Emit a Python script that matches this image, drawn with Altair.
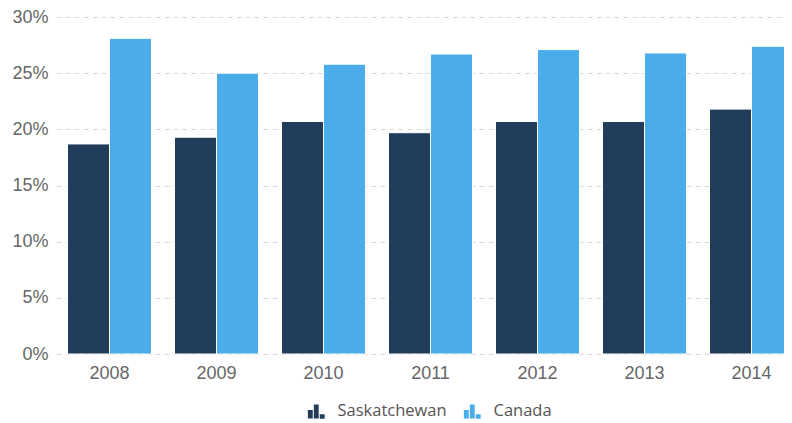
import altair as alt
import pandas as pd

years = ["2008", "2009", "2010", "2011", "2012", "2013", "2014"]
sask = [18.7, 19.3, 20.7, 19.7, 20.7, 20.7, 21.8]
canada = [28.1, 25.0, 25.8, 26.7, 27.1, 26.8, 27.4]
series = ["Saskatchewan", "Canada"]
colors = ["#223c5c", "#4aadea"]
y_ticks = [0, 5, 10, 15, 20, 25, 30]

rows = []
for i, yr in enumerate(years):
    rows.append({"year": yr, "series": "Saskatchewan", "value": sask[i]})
    rows.append({"year": yr, "series": "Canada", "value": canada[i]})
df = pd.DataFrame(rows)

icon = ("M-1.2,1 L-1.2,-0.2 L-0.5,-0.2 L-0.5,1 Z "
        "M-0.35,1 L-0.35,-1 L0.35,-1 L0.35,1 Z "
        "M0.5,1.05 L0.5,0.4 L1.2,0.4 L1.2,1.05 Z")

chart = alt.Chart(df).mark_bar(stroke="white", strokeWidth=1).encode(
    x=alt.X("year:N", sort=years,
            scale=alt.Scale(paddingInner=0.215, paddingOuter=0.1075),
            axis=alt.Axis(title=None, labelAngle=0, ticks=False, domain=False,
                          labelFont="Liberation Sans", labelFontSize=18,
                          labelColor="#666666", labelPadding=10)),
    xOffset=alt.XOffset("series:N", sort=series,
                        scale=alt.Scale(paddingInner=0, paddingOuter=0)),
    y=alt.Y("value:Q", scale=alt.Scale(domain=[0, 30], nice=False),
            axis=alt.Axis(title=None, values=y_ticks, labelExpr="datum.value + '%'",
                          ticks=False, domain=False, grid=True, gridDash=[5, 4],
                          gridColor="#d9d9d9", gridWidth=1,
                          labelFont="Liberation Sans", labelFontSize=18,
                          labelColor="#666666", labelPadding=8)),
    color=alt.Color("series:N", sort=series,
                    scale=alt.Scale(domain=series, range=colors),
                    legend=alt.Legend(title=None, orient="none", legendX=252, legendY=386,
                                      direction="horizontal", symbolType=icon,
                                      symbolSize=196, symbolStrokeWidth=0,
                                      labelFont="Open Sans", labelFontSize=16.5,
                                      labelColor="#555555", labelOffset=13,
                                      columnPadding=16)),
).properties(
    width=749, height=337,
    autosize=alt.AutoSizeParams(type="none"),
    padding={"left": 48, "top": 9, "right": -21, "bottom": 69},
).configure_view(stroke=None)

chart.save("out.html", embed_options={"renderer": "svg", "actions": False})
